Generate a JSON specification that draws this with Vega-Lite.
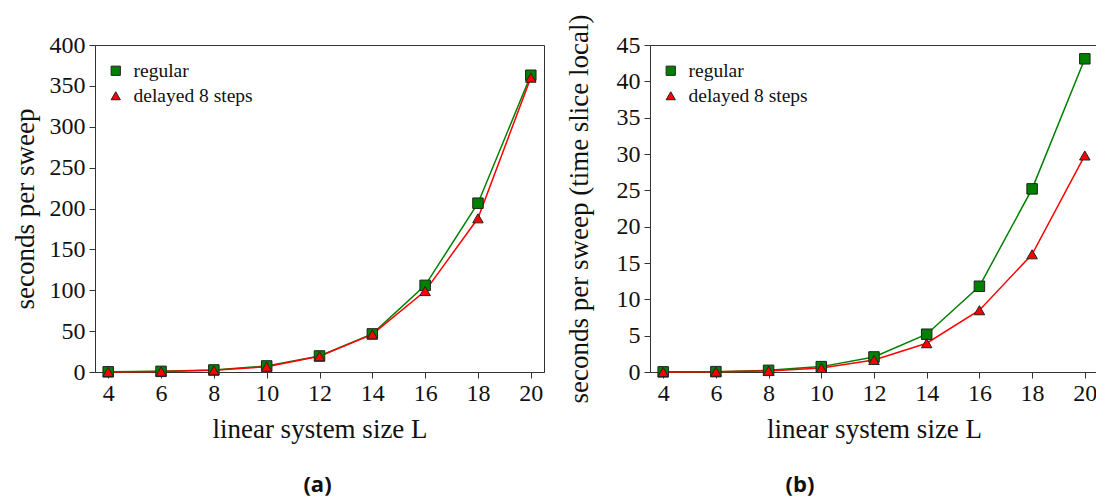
{
  "$schema": "https://vega.github.io/schema/vega-lite/v6.json",
  "padding": {"left": 10, "top": 13, "right": 5, "bottom": 5},
  "spacing": 19,
  "background": "white",
  "datasets": {
    "total": [
      {"L": 4, "series": "regular", "sec": 0.2},
      {"L": 6, "series": "regular", "sec": 0.8},
      {"L": 8, "series": "regular", "sec": 2.5},
      {"L": 10, "series": "regular", "sec": 7.4},
      {"L": 12, "series": "regular", "sec": 19.6},
      {"L": 14, "series": "regular", "sec": 46.6},
      {"L": 16, "series": "regular", "sec": 106},
      {"L": 18, "series": "regular", "sec": 206.5},
      {"L": 20, "series": "regular", "sec": 363},
      {"L": 4, "series": "delayed 8 steps", "sec": 0.15},
      {"L": 6, "series": "delayed 8 steps", "sec": 0.6},
      {"L": 8, "series": "delayed 8 steps", "sec": 2.0},
      {"L": 10, "series": "delayed 8 steps", "sec": 6.5},
      {"L": 12, "series": "delayed 8 steps", "sec": 19.2},
      {"L": 14, "series": "delayed 8 steps", "sec": 46},
      {"L": 16, "series": "delayed 8 steps", "sec": 99},
      {"L": 18, "series": "delayed 8 steps", "sec": 188},
      {"L": 20, "series": "delayed 8 steps", "sec": 360}
    ],
    "local": [
      {"L": 4, "series": "regular", "sec": 0.02},
      {"L": 6, "series": "regular", "sec": 0.05},
      {"L": 8, "series": "regular", "sec": 0.23},
      {"L": 10, "series": "regular", "sec": 0.74},
      {"L": 12, "series": "regular", "sec": 2.07},
      {"L": 14, "series": "regular", "sec": 5.2},
      {"L": 16, "series": "regular", "sec": 11.8},
      {"L": 18, "series": "regular", "sec": 25.2},
      {"L": 20, "series": "regular", "sec": 43.1},
      {"L": 4, "series": "delayed 8 steps", "sec": 0.01},
      {"L": 6, "series": "delayed 8 steps", "sec": 0.04},
      {"L": 8, "series": "delayed 8 steps", "sec": 0.15},
      {"L": 10, "series": "delayed 8 steps", "sec": 0.55},
      {"L": 12, "series": "delayed 8 steps", "sec": 1.66},
      {"L": 14, "series": "delayed 8 steps", "sec": 3.96},
      {"L": 16, "series": "delayed 8 steps", "sec": 8.5},
      {"L": 18, "series": "delayed 8 steps", "sec": 16.2},
      {"L": 20, "series": "delayed 8 steps", "sec": 29.8}
    ]
  },
  "config": {
    "font": "Liberation Serif",
    "view": {"stroke": "#333333", "strokeWidth": 1},
    "axis": {
      "grid": false,
      "domainColor": "#333333",
      "tickColor": "#333333",
      "tickSize": 6,
      "labelFont": "Liberation Serif",
      "labelFontSize": 24,
      "labelColor": "#111111",
      "titleFont": "Liberation Serif",
      "titleFontSize": 27,
      "titleFontWeight": "normal",
      "titleColor": "#111111"
    },
    "axisX": {"labelPadding": 3, "titlePadding": 11},
    "axisY": {"labelPadding": 4},
    "legend": {
      "labelFont": "Liberation Serif",
      "labelFontSize": 19.5,
      "labelColor": "#111111",
      "symbolStrokeColor": "#222222",
      "symbolStrokeWidth": 1,
      "symbolSize": 85,
      "rowPadding": 4,
      "labelOffset": 8,
      "padding": 0
    },
    "title": {
      "orient": "bottom",
      "font": "Open Sans",
      "fontSize": 22,
      "fontWeight": "bold",
      "color": "#111111",
      "offset": 33
    }
  },
  "hconcat": [
    {
      "width": 449,
      "height": 327,
      "view": {"stroke": "#333333", "strokeWidth": 1},
      "data": {"name": "total"},
      "title": {"text": "(a)", "dx": -2},
      "encoding": {
        "x": {
          "field": "L",
          "type": "quantitative",
          "scale": {"domain": [3.5, 20.5], "nice": false, "zero": false},
          "axis": {"values": [4, 6, 8, 10, 12, 14, 16, 18, 20], "title": "linear system size  L", "labelFont": "Liberation Serif"}
        },
        "y": {
          "field": "sec",
          "type": "quantitative",
          "scale": {"domain": [0, 400], "nice": false},
          "axis": {"values": [0, 50, 100, 150, 200, 250, 300, 350, 400], "title": "seconds per sweep", "titlePadding": 10, "labelFont": "Liberation Serif"}
        }
      },
      "layer": [
        {
          "transform": [{"filter": "datum.series === 'regular'"}],
          "mark": {"type": "line", "strokeWidth": 1.5, "color": "#008000"}
        },
        {
          "transform": [{"filter": "datum.series === 'delayed 8 steps'"}],
          "mark": {"type": "line", "strokeWidth": 1.5, "color": "#ff0000"}
        },
        {
          "mark": {"type": "point", "filled": true, "opacity": 1, "size": 110, "stroke": "#222222", "strokeWidth": 1},
          "encoding": {
            "color": {
              "field": "series",
              "type": "nominal",
              "scale": {"domain": ["regular", "delayed 8 steps"], "range": ["#008000", "#ff0000"]},
              "legend": {"orient": "none", "legendX": 11, "legendY": 16, "title": null}
            },
            "shape": {
              "field": "series",
              "type": "nominal",
              "scale": {"domain": ["regular", "delayed 8 steps"], "range": ["square", "triangle-up"]},
              "legend": {"orient": "none", "legendX": 11, "legendY": 16, "title": null}
            }
          }
        }
      ]
    },
    {
      "width": 448,
      "height": 327,
      "view": {"stroke": "#333333", "strokeWidth": 1},
      "data": {"name": "local"},
      "title": {"text": "(b)", "dx": -74},
      "encoding": {
        "x": {
          "field": "L",
          "type": "quantitative",
          "scale": {"domain": [3.5, 20.5], "nice": false, "zero": false},
          "axis": {"values": [4, 6, 8, 10, 12, 14, 16, 18, 20], "title": "linear system size  L", "labelFont": "Liberation Serif"}
        },
        "y": {
          "field": "sec",
          "type": "quantitative",
          "scale": {"domain": [0, 45], "nice": false},
          "axis": {"values": [0, 5, 10, 15, 20, 25, 30, 35, 40, 45], "title": "seconds per sweep (time slice local)", "titlePadding": 23, "labelFont": "Liberation Serif"}
        }
      },
      "layer": [
        {
          "transform": [{"filter": "datum.series === 'regular'"}],
          "mark": {"type": "line", "strokeWidth": 1.5, "color": "#008000"}
        },
        {
          "transform": [{"filter": "datum.series === 'delayed 8 steps'"}],
          "mark": {"type": "line", "strokeWidth": 1.5, "color": "#ff0000"}
        },
        {
          "mark": {"type": "point", "filled": true, "opacity": 1, "size": 110, "stroke": "#222222", "strokeWidth": 1},
          "encoding": {
            "color": {
              "field": "series",
              "type": "nominal",
              "scale": {"domain": ["regular", "delayed 8 steps"], "range": ["#008000", "#ff0000"]},
              "legend": {"orient": "none", "legendX": 11, "legendY": 16, "title": null}
            },
            "shape": {
              "field": "series",
              "type": "nominal",
              "scale": {"domain": ["regular", "delayed 8 steps"], "range": ["square", "triangle-up"]},
              "legend": {"orient": "none", "legendX": 11, "legendY": 16, "title": null}
            }
          }
        }
      ]
    }
  ],
  "resolve": {"scale": {"color": "independent", "shape": "independent"}}
}
